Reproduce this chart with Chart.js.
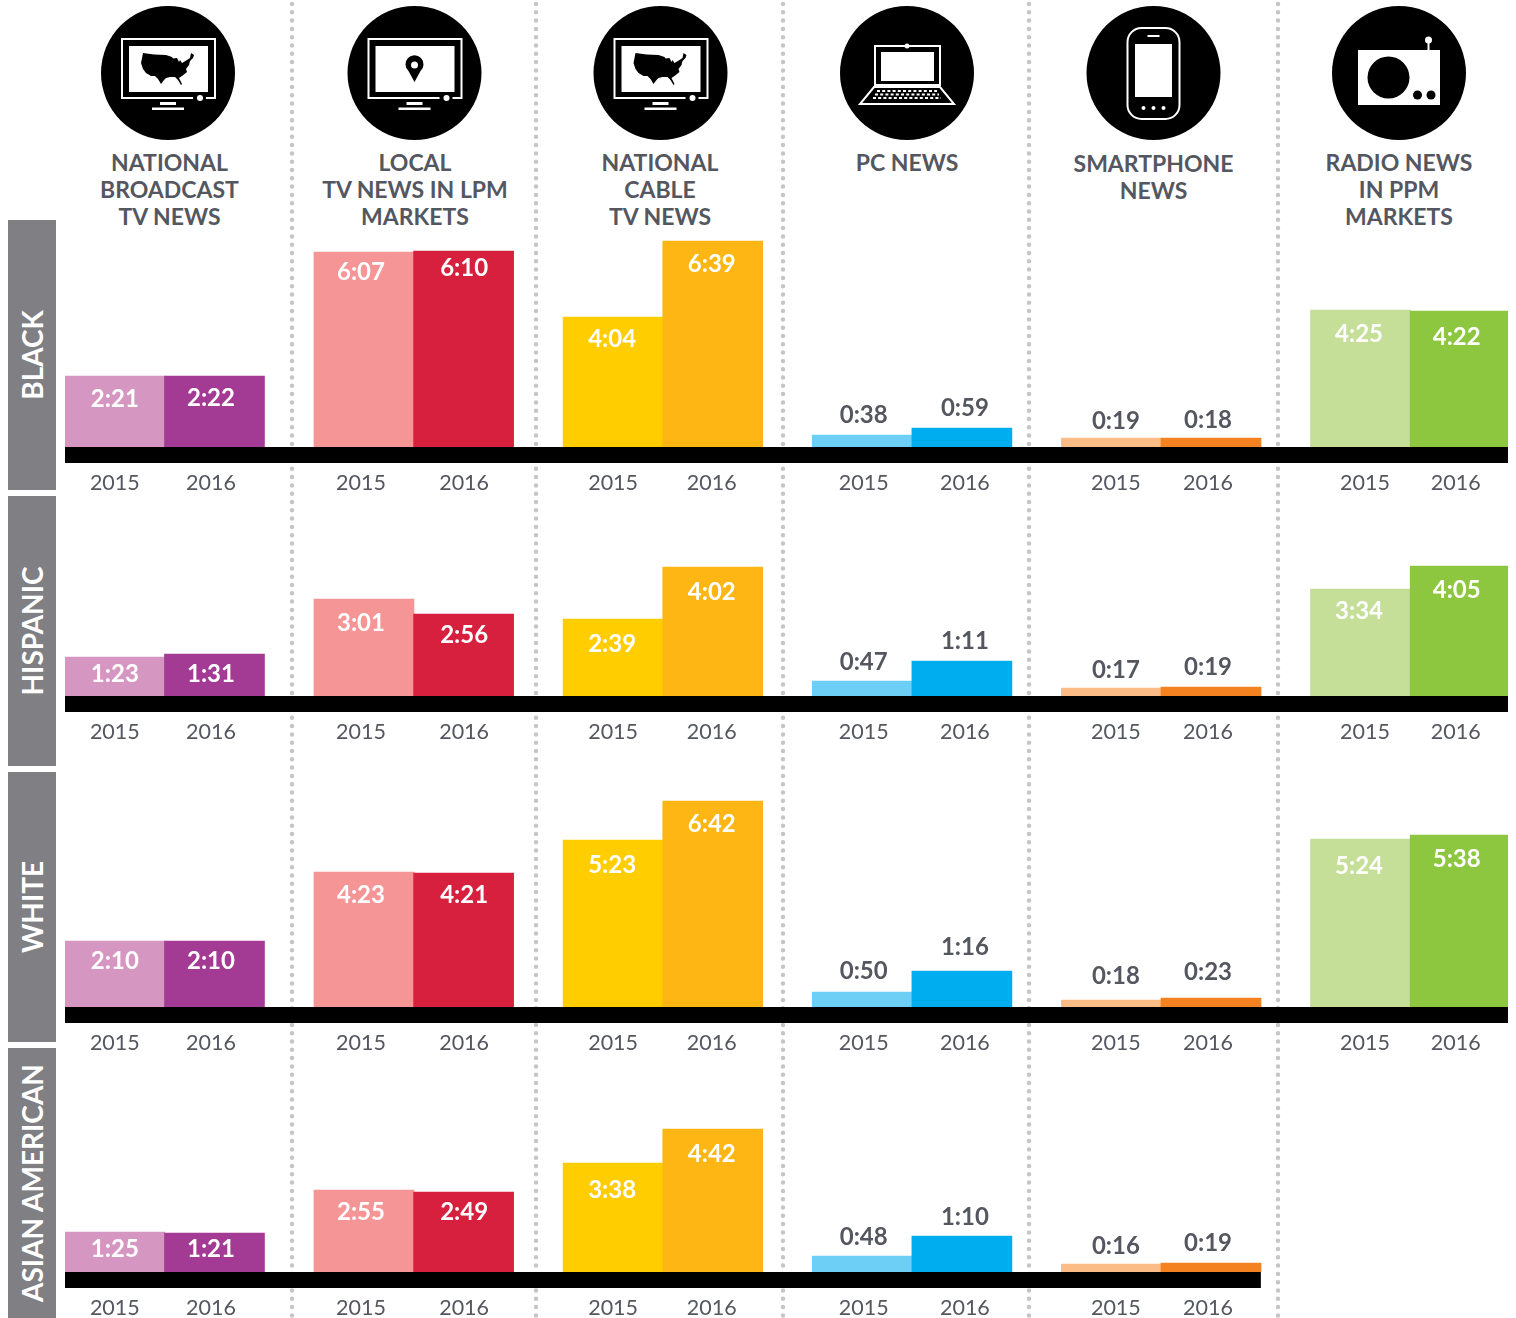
<!DOCTYPE html>
<html>
<head>
<meta charset="utf-8">
<title>News minutes by group</title>
<script src="https://cdn.jsdelivr.net/npm/chart.js@4"></script>
<style>
html,body{margin:0;background:#fff}
#page{position:relative;width:1516px;height:1318px;overflow:hidden;font-family:Lato,sans-serif}
#art{position:absolute;left:0;top:0}
canvas{position:absolute;left:0}
.head{position:absolute;top:149px;width:240px;margin-left:-120px;text-align:center;color:#54575f;font-weight:700;font-size:23px;line-height:27px}
.band{position:absolute;left:8px;width:48px;background:#808084}
.band span{position:absolute;left:24px;top:50%;transform:translate(-50%,-50%) rotate(-90deg);white-space:nowrap;color:#fff;font-weight:700;font-size:28px}
</style>
</head>
<body>
<div id="page">
<svg id="art" width="1516" height="1318">
  <defs>
    <g id="tv">
      <circle r="67" fill="#000"/>
      <path d="M25,25H-46V-34H47V25H38" fill="none" stroke="#fff" stroke-width="2"/>
      <rect x="-39" y="-27" width="79" height="46" fill="#fff"/>
      <circle cx="32" cy="25" r="3" fill="#fff"/>
      <rect x="-8" y="29" width="16" height="3" fill="#fff"/>
      <rect x="-16" y="34.5" width="32" height="2.5" fill="#fff"/>
    </g>
    <path id="usa" d="M-25,-20L-14,-18.5L-2,-18L4,-16L5,-14.5L9,-15L11,-11L12,-13L14,-10L19,-13L22,-15L23,-20L26,-18L25,-15L22,-12L21,-8L18,-4L19,-1L14,3L11,5L14,11L13,12L10,7L7,4L2,4L-2,5L-4,7L-7,11L-10,6L-13,3L-17,3L-22,0L-25,-4L-27,-10Z" fill="#000"/>
  </defs>
  <g id="dots" stroke="#c6c6c6" stroke-width="4.5" stroke-linecap="round" stroke-dasharray="0 8.3"></g>
  <g transform="translate(168,73)"><use href="#tv"/><use href="#usa"/></g>
  <g transform="translate(414.5,73)"><use href="#tv"/>
    <path d="M0,9L-6,-2A9,9 0 1 1 6,-2Z" fill="#000"/><circle cy="-8" r="3.5" fill="#fff"/></g>
  <g transform="translate(660.5,73)"><use href="#tv"/><use href="#usa"/></g>
  <g transform="translate(907,73)">
    <circle r="67" fill="#000"/>
    <rect x="-32" y="-27" width="65" height="39" fill="none" stroke="#fff" stroke-width="2"/>
    <rect x="-26" y="-21" width="53" height="29" fill="#fff"/>
    <circle cy="-27" r="2.5" fill="#fff"/>
    <path d="M-33,14H33L47,31H-47Z" fill="none" stroke="#fff" stroke-width="2"/>
    <path d="M-30,18H30M-32,21.5H32M-34,25H34" stroke="#fff" stroke-width="2" stroke-dasharray="3 2.2"/>
  </g>
  <g transform="translate(1153.5,73)">
    <circle r="67" fill="#000"/>
    <rect x="-26" y="-45" width="52" height="91" rx="14" fill="none" stroke="#fff" stroke-width="2"/>
    <rect x="-18.5" y="-29" width="37" height="53" fill="#fff"/>
    <rect x="-6" y="-38" width="12" height="2" fill="#fff"/>
    <circle cx="-10" cy="35" r="2" fill="#fff"/><circle cy="35" r="2" fill="#fff"/><circle cx="10" cy="35" r="2" fill="#fff"/>
  </g>
  <g transform="translate(1399,73)">
    <circle r="67" fill="#000"/>
    <rect x="-41" y="-23" width="82" height="55" fill="#fff"/>
    <circle cx="-10.5" cy="4.5" r="21" fill="#000"/>
    <circle cx="18.5" cy="22" r="4.5" fill="#000"/><circle cx="32" cy="22" r="4.5" fill="#000"/>
    <path d="M29.5,-33V-23" stroke="#fff" stroke-width="2"/><circle cx="29.5" cy="-33" r="3.5" fill="#fff"/>
  </g>
</svg>
</div>
<script>
const sources=[['NATIONAL','BROADCAST','TV NEWS'],['LOCAL','TV NEWS IN LPM','MARKETS'],['NATIONAL','CABLE','TV NEWS'],['PC NEWS'],['SMARTPHONE','NEWS'],['RADIO NEWS','IN PPM','MARKETS']];
const groups=['BLACK','HISPANIC','WHITE','ASIAN AMERICAN'];
const years=['2015','2016'];

// the printed times, h:mm
const blackTimes=['2:21','2:22','6:07','6:10','4:04','6:39','0:38','0:59','0:19','0:18','4:25','4:22'];
const hispanicTimes=['1:23','1:31','3:01','2:56','2:39','4:02','0:47','1:11','0:17','0:19','3:34','4:05'];
const whiteTimes=['2:10','2:10','4:23','4:21','5:23','6:42','0:50','1:16','0:18','0:23','5:24','5:38'];
const asianTimes=['1:25','1:21','2:55','2:49','3:38','4:42','0:48','1:10','0:16','0:19'];

// bar lengths, the source does not draw them strictly to the printed times
const blackBars=[142,142,390,392,260,412,24,38,18,18,274,272];
const hispanicBars=[78,84,194,164,154,258,30,70,16,18,214,260];
const whiteBars=[132,132,270,268,334,412,30,72,14,18,336,344];
const asianBars=[80,78,164,160,218,286,32,72,16,18];

const barColors=['#d597c1','#a33a94','#f59595','#d71f3e','#ffcd00','#fdb614','#6dcff6','#00aeef','#fbbc85','#f58220','#c5de98','#8dc63f'];

// layout
const baselines=[447,696,1007,1272];
const rowTops=[230,500,780,1055];
const bands=[220,496,772,1048];
const headX=[169.5,415,660,907,1153.5,1399];
const dotX=[292,536,783,1029,1278];
const yearSlots=[1,2.93,5.94,8.01,11,12.98,16.03,18.06,21.09,22.94,26.09,27.91];
const timeSlots=[1,2.93,5.94,8.01,10.98,12.98,16.03,18.06,21.09,22.94,25.97,27.93];
const timeOffsets=[
  [23,22,20,17,22,23,-20,-20,-17,-18,24,26],
  [17,20,24,21,25,25,-19,-20,-18,-20,22,24],
  [20,20,23,22,25,23,-21,-24,-24,-26,27,24],
  [17,16,22,20,27,25,-19,-19,-18,-20]];
const below=46;
const grey='#54575f';

const page=document.getElementById('page');
const dots=document.getElementById('dots');
dotX.forEach(x=>{
  const l=document.createElementNS('http://www.w3.org/2000/svg','line');
  l.setAttribute('x1',x);l.setAttribute('x2',x);l.setAttribute('y1',4);l.setAttribute('y2',1318);
  dots.appendChild(l);
});
sources.forEach((s,i)=>{
  const d=document.createElement('div');
  d.className='head';
  d.style.left=headX[i]+'px';
  if(i==4) d.style.top='150px';
  d.innerHTML=s.join('<br>');
  page.appendChild(d);
});
groups.forEach((g,i)=>{
  const d=document.createElement('div');
  d.className='band';
  d.style.top=bands[i]+'px';
  d.style.height='270px';
  d.innerHTML='<span>'+g+'</span>';
  page.appendChild(d);
});

function drawRow(r,bars,times){
  const c=document.createElement('canvas');
  const plotH=baselines[r]-rowTops[r];
  c.width=1516;c.height=plotH+below;
  c.style.top=rowTops[r]+'px';
  page.appendChild(c);
  const ticks=yearSlots.slice(0,bars.length);
  const points=bars.map((v,i)=>({x:Math.floor(i/2)*5+1+(i%2)*2,y:v}));
  new Chart(c,{
    type:'bar',
    data:{datasets:[{data:points,backgroundColor:barColors.slice(0,bars.length),barThickness:100,borderWidth:0}]},
    options:{
      responsive:false,animation:false,
      layout:{padding:{left:65,right:8,top:0,bottom:0}},
      plugins:{legend:{display:false},tooltip:{enabled:false}},
      scales:{
        x:{type:'linear',min:0,max:28.96,offset:false,
          grid:{display:false,drawTicks:false},border:{display:false},
          afterBuildTicks:s=>{s.ticks=ticks.map(v=>({value:v}));},
          afterFit:s=>{s.height=below;},
          ticks:{autoSkip:false,maxRotation:0,padding:23,color:grey,font:{family:'Lato',size:21.5},callback:(v,i)=>years[i%2]}},
        y:{display:false,min:0,max:plotH*2}
      }
    },
    plugins:[{id:'rowMarks',afterDatasetsDraw(chart){
      const ctx=chart.ctx,xs=chart.scales.x,a=chart.chartArea;
      const right=Math.min(a.right,xs.getPixelForValue(points[points.length-1].x+1));
      ctx.save();
      ctx.fillStyle='#000';
      ctx.fillRect(a.left,a.bottom,right-a.left,16);
      ctx.font='700 24px Lato';
      ctx.textAlign='center';ctx.textBaseline='middle';
      chart.getDatasetMeta(0).data.forEach((b,i)=>{
        const off=timeOffsets[r][i];
        ctx.fillStyle=off<0?grey:'#fff';
        ctx.fillText(times[i],xs.getPixelForValue(timeSlots[i]),b.y+off);
      });
      ctx.restore();
    }}]
  });
}

drawRow(0,blackBars,blackTimes);
drawRow(1,hispanicBars,hispanicTimes);
drawRow(2,whiteBars,whiteTimes);
drawRow(3,asianBars,asianTimes);
</script>
</body>
</html>
